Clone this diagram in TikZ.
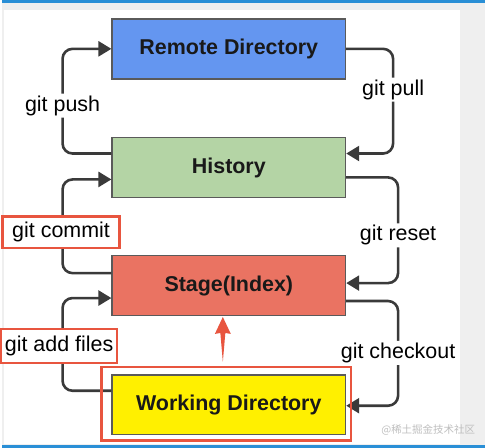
\documentclass[tikz,border=0pt]{standalone}
\usepackage{fontspec}
\setmainfont{Liberation Sans}
\newfontfamily\cjk{Noto Sans CJK SC}
\usepackage{xcolor}
\usetikzlibrary{arrows.meta}
\definecolor{remoteblue}{HTML}{6496F0}
\definecolor{historygreen}{HTML}{B4D4A5}
\definecolor{stagered}{HTML}{EA7362}
\definecolor{workyellow}{HTML}{FFF000}
\definecolor{boxgray}{HTML}{5A5A5A}
\definecolor{flowgray}{HTML}{3A3A3A}
\definecolor{hlred}{HTML}{E8553F}
\definecolor{pagegray}{HTML}{EFEFEF}
\definecolor{barblue}{HTML}{2A8FD6}

\begin{document}
\begin{tikzpicture}[x=1pt,y=-1pt,
        box/.style={draw=boxgray, line width=1.6pt, minimum width=234pt, minimum height=60pt,
            font=\fontsize{21.5}{25}\selectfont\bfseries, text=black!90},
        flow/.style={draw=flowgray, line width=2.6pt, rounded corners=10pt,
            -{Triangle[length=13pt,width=15pt]}},
        lbl/.style={fill=white, inner sep=2pt, font=\fontsize{21.5}{25}\selectfont},
        hl/.style={draw=hlred, line width=2.5pt, sharp corners}]
        % page
        \fill[pagegray] (0,0) rectangle (485,449);
        \fill[white] (2,10) rectangle (460,445);
        \fill[barblue] (0,0) rectangle (485,3);
        \fill[barblue] (0,446) rectangle (485,449);
        % areas
        \node[box, fill=remoteblue] (remote) at (228,49) {Remote Directory};
        \node[box, fill=historygreen] (history) at (228,168) {History};
        \node[box, fill=stagered] (stage) at (228,286.5) {Stage(Index)};
        \node[box, fill=workyellow] (working) at (228,406) {Working Directory};
        % commands
        \draw[flow] ([yshift=14pt]history.west) -- ++(-49,0)
            |- node[lbl, pos=0.229] {git push} (remote.west);
        \draw[flow] (remote.east) -- ++(47,0)
            |- node[lbl, pos=0.195] {git pull} ([yshift=14pt]history.east);
        \draw[flow] ([yshift=12.5pt]stage.west) -- ++(-49,0)
            |- node[lbl, hl, pos=0.218, xshift=-1.5pt, minimum width=117pt, minimum height=32pt] {git commit}
            ([yshift=-12pt]history.west);
        \draw[flow] ([yshift=-10pt]history.east) -- ++(52,0)
            |- node[lbl, pos=0.274] {git reset} ([yshift=2.5pt]stage.east);
        \draw[flow] ([yshift=-15.5pt]stage.east) -- ++(52,0)
            |- node[lbl, pos=0.248] {git checkout} ([yshift=-1pt]working.east);
        \draw[flow] ([yshift=14pt]working.west) -- ++(-49,0)
            |- node[lbl, hl, pos=0.242, xshift=-3.5pt, minimum width=116pt, minimum height=34pt] {git add files}
            ([yshift=-12.5pt]stage.west);
        % highlight
        \draw[hl] ([shift={(-10pt,7pt)}]working.north west) rectangle ([shift={(5pt,-5pt)}]working.south east);
        \fill[hlred] (222,318) -- (230,335) -- (224.5,334) -- (222,363) -- (219.5,334) -- (214,335) -- cycle;
        \node[text=black!25, font=\cjk\fontsize{10.5}{12}\selectfont] (mark) at (428,431) {@稀土掘金技术社区};
    \end{tikzpicture}
\end{document}
